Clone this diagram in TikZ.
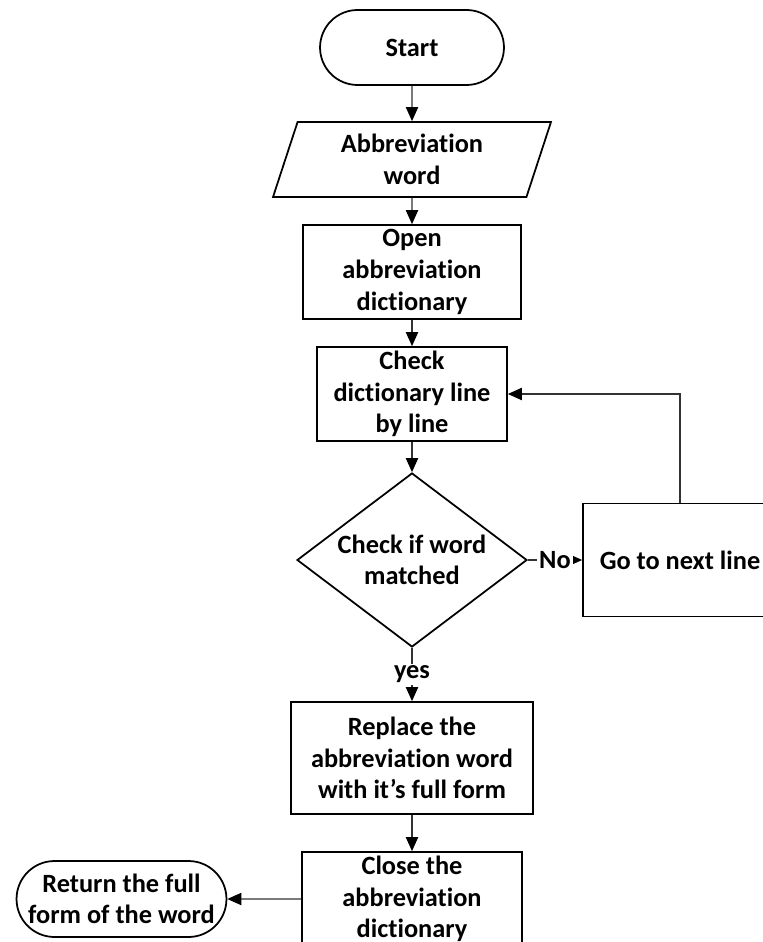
\documentclass[tikz,border=0pt]{standalone}
\usepackage{fontspec}
\setmainfont[Ligatures=NoCommon]{Carlito}
\usepackage{tikz}
\usetikzlibrary{calc,arrows.meta,shapes.geometric,shapes.misc}

\tikzset{
  box/.style={draw, line width=1pt, align=center, inner sep=2pt},
  term/.style={draw, rounded rectangle, line width=1pt, align=center, inner sep=2pt},
  io/.style={draw, trapezium, trapezium left angle=64, trapezium right angle=116, trapezium stretches body, line width=1pt, align=center, inner sep=0pt},
  dec/.style={draw, diamond, shape aspect=1.32, line width=1pt, align=center, inner sep=0pt},
  flow/.style={draw=black!80, line width=0.7pt, -{Triangle[length=8pt,width=7pt,color=black]}},
  lbl/.style={fill=white, inner sep=1pt}
}

\begin{document}
\begin{tikzpicture}[x=0.02cm, y=-0.02cm, font=\bfseries\fontsize{15}{18}\selectfont]
\useasboundingbox (0,0) rectangle (763,942);
\node[term, minimum width=3.82cm, minimum height=1.5cm] (start) at (412,47.5) {Start};
\node[io, minimum width=5.56cm, minimum height=1.5cm] (inp) at (412,159.5) {Abbreviation\\word};
\node[box, minimum width=4.36cm, minimum height=1.88cm] (open) at (412,272) {Open\\abbreviation\\dictionary};
\node[box, minimum width=3.8cm, minimum height=1.88cm] (chk) at (412,394) {Check\\dictionary line\\by line};
\node[dec, minimum width=4.6cm, minimum height=3.48cm] (dia) at (412,560) {Check if word\\matched};
\node[box, minimum width=3.88cm, minimum height=2.26cm] (go) at (680,560) {Go to next line};
\node[box, minimum width=4.84cm, minimum height=2.24cm] (rep) at (412,758) {Replace the\\abbreviation word\\with it’s full form};
\node[box, minimum width=4.4cm, minimum height=1.88cm] (cls) at (412,899) {Close the\\abbreviation\\dictionary};
\node[term, minimum width=4.34cm, minimum height=1.52cm] (ret) at (121.5,899) {Return the full\\form of the word};
\foreach \a/\b in {start/inp, inp/open, open/chk, chk/dia, rep/cls}{
	\draw[flow] (\a) -- (\b);
	}
\draw[flow] (dia) -- node[lbl]{No} (go);
\draw[flow] (dia) -- node[lbl]{yes} (rep);
\draw[flow] (go.north) |- (chk.east);
\draw[flow] (cls) -- (ret);
\end{tikzpicture}
\end{document}
